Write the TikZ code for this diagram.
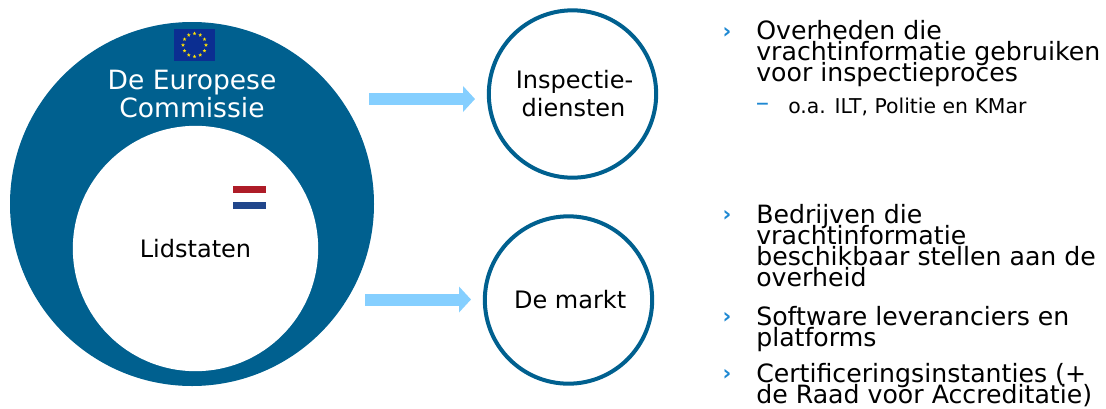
\documentclass[tikz,border=0pt]{standalone}
\usepackage{fontspec}
\setmainfont{DejaVu Sans}
\usetikzlibrary{calc}
\usetikzlibrary{arrows.meta}
\usetikzlibrary{shapes.geometric}
\definecolor{commblue}{HTML}{00608F}
\definecolor{flagblue}{HTML}{0B2E91}
\definecolor{arrowblue}{HTML}{85CFFF}
\definecolor{bulletblue}{HTML}{1E88D2}
\definecolor{nlred}{HTML}{AE1C28}
\definecolor{nlblue}{HTML}{21468B}
\setlength{\lineskiplimit}{-30pt}
\tikzset{
  blob/.style={circle, fill=commblue, inner sep=0pt},
  ring/.style={circle, draw=commblue, line width=3pt, fill=white, inner sep=0pt, minimum size=125.5pt, align=center, font=\fontsize{18}{21}\selectfont},
  bigarrow/.style={line width=9pt, arrowblue, -{Triangle[length=9pt, width=19pt]}},
  mainitem/.style={anchor=north west, align=left, inner sep=0pt, font=\fontsize{18.9}{15.75}\selectfont},
  subitem/.style={anchor=north west, align=left, inner sep=0pt, font=\fontsize{15.3}{15}\selectfont},
  mark1/.style={anchor=center, inner sep=0pt, text=bulletblue, font=\bfseries\fontsize{16}{15}\selectfont},
  mark2/.style={anchor=center, inner sep=0pt, text=bulletblue, font=\fontsize{20}{15}\selectfont},
  eustar/.style={star, star points=5, star point ratio=2.4, fill=yellow!85!orange, inner sep=0pt, minimum size=3pt}
}
\begin{document}
\begin{tikzpicture}[x=0.75pt, y=-0.75pt]
  \useasboundingbox (0,0) rectangle (1106,408);
  \node[blob, minimum size=273pt] (commissie) at (192,204) {};
  \node[circle, fill=white, inner sep=0pt, minimum size=184pt, font=\fontsize{18}{21}\selectfont] (lidstaten) at (195.5,248.5) {Lidstaten};
  \node[text=white, align=center, inner sep=0pt, font=\fontsize{19.9}{21}\selectfont] (eutext) at (192,94.5) {De Europese\\Commissie};
  \node[fill=flagblue, inner sep=0pt, minimum width=30.75pt, minimum height=24pt] (euflag) at (194.5,45) {};
  \foreach \i in {0,30,...,330}
    \node[eustar] (star\i) at ($(194.5,45)+(\i:11.5 and 11.5)$) {};
  \node[fill=nlred, inner sep=0pt, minimum width=24.75pt, minimum height=5.5pt] (nlone) at (249.5,189.7) {};
  \node[fill=nlblue, inner sep=0pt, minimum width=24.75pt, minimum height=5.5pt] (nltwo) at (249.5,205.2) {};
  \node[ring] (inspectie) at (572.5,94) {\hspace*{3pt}Inspectie-\\\hspace*{1.5pt}diensten};
  \node[ring] (markt) at (568.5,300) {\hspace*{2.5pt}De markt};
  \coordinate (startone) at (369,99);
  \coordinate (tipone) at (475,99);
  \coordinate (starttwo) at (365,299.5);
  \coordinate (tiptwo) at (471,299.5);
  \draw[bigarrow] (startone) -- (tipone);
  \draw[bigarrow] (starttwo) -- (tiptwo);
  \node[mark1] (bulone) at (727,33) {›};
  \node[mainitem] (overheden) at (756,20.5) {Overheden die\\vrachtinformatie gebruiken\\voor inspectieproces};
  \node[mark2] (dashone) at (762.5,107) {–};
  \node[subitem] (ilt) at (788,98) {o.a. ILT, Politie en KMar};
  \node[mark1] (bultwo) at (727,216) {›};
  \node[mainitem] (bedrijven) at (756,204.5) {Bedrijven die\\vrachtinformatie\\beschikbaar stellen aan de\\overheid};
  \node[mark1] (bulthree) at (727,318) {›};
  \node[mainitem] (software) at (756,306) {Software leveranciers en\\platforms};
  \node[mark1] (bulfour) at (727,375) {›};
  \node[mainitem] (certif) at (756,363.5) {Certificeringsinstanties (+\\de Raad voor Accreditatie)};
\end{tikzpicture}
\end{document}
